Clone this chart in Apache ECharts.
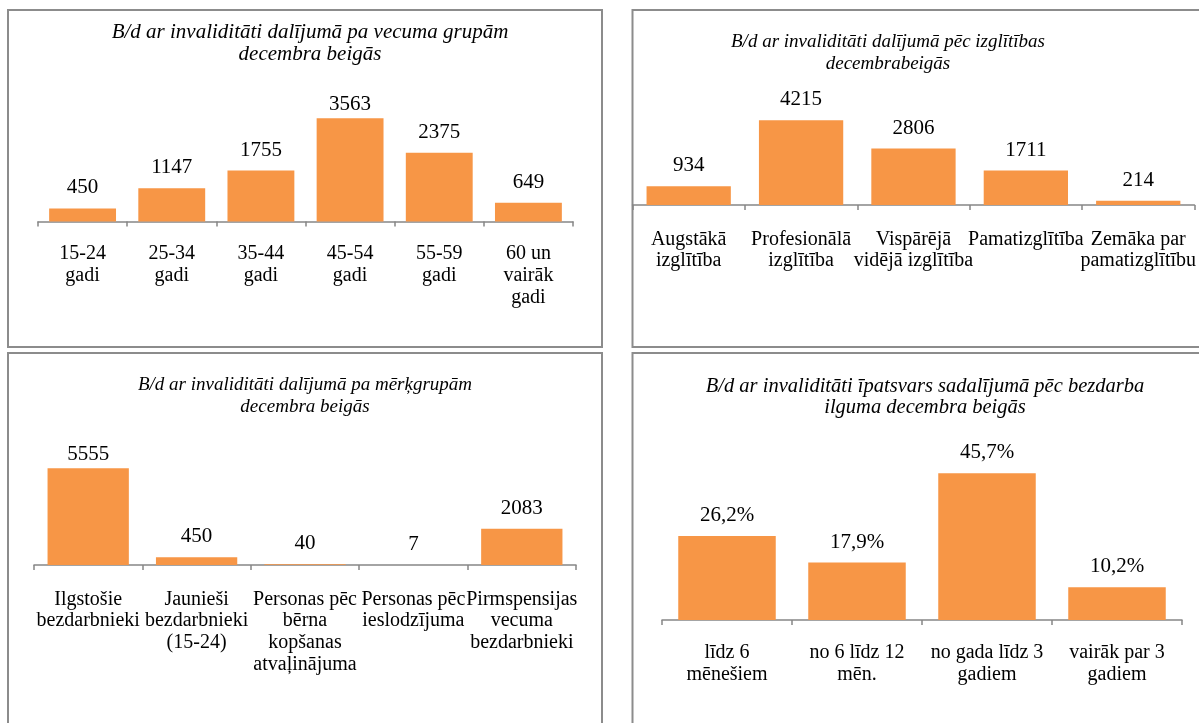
<!DOCTYPE html>
<html>
<head>
<meta charset="utf-8">
<script src="https://cdn.jsdelivr.net/npm/echarts@6/dist/echarts.min.js"></script>
<style>
html, body { margin: 0; padding: 0; background: #fff; }
#chart { width: 1199px; height: 723px; }
</style>
</head>
<body>
<div id="chart"></div>
<script>
// vecuma grupas
const ageGroups = ['15-24\ngadi', '25-34\ngadi', '35-44\ngadi', '45-54\ngadi', '55-59\ngadi', '60 un\nvairāk\ngadi']
const ageValues = [450, 1147, 1755, 3563, 2375, 649]

// izglītība
const eduGroups = ['Augstākā\nizglītība', 'Profesionālā\nizglītība', 'Vispārējā\nvidējā izglītība', 'Pamatizglītība', 'Zemāka par\npamatizglītību']
const eduValues = [934, 4215, 2806, 1711, 214]

// mērķgrupas
const targetGroups = ['Ilgstošie\nbezdarbnieki', 'Jaunieši\nbezdarbnieki\n(15-24)', 'Personas pēc\nbērna\nkopšanas\natvaļinājuma', 'Personas pēc\nieslodzījuma', 'Pirmspensijas\nvecuma\nbezdarbnieki']
const targetValues = [5555, 450, 40, 7, 2083]

// bezdarba ilgums (%)
const durGroups = ['līdz 6\nmēnešiem', 'no 6 līdz 12\nmēn.', 'no gada līdz 3\ngadiem', 'vairāk par 3\ngadiem']
const durValues = [26.2, 17.9, 45.7, 10.2]

const titles = [
  'B/d ar invaliditāti dalījumā pa vecuma grupām\ndecembra beigās',
  'B/d ar invaliditāti dalījumā pēc izglītības\ndecembrabeigās',
  'B/d ar invaliditāti dalījumā pa mērķgrupām\ndecembra beigās',
  'B/d ar invaliditāti īpatsvars sadalījumā pēc bezdarba\nilguma decembra beigās'
]

const FONT = "'Liberation Serif', 'Times New Roman', serif"
const BAR = '#F79646'
const AXIS = '#868686'
const BOX = '#8c8c8c'

// paneļu izkārtojums
const grids = [
  { left: 38, top: 105.5, width: 535, height: 116 },
  { left: 632.5, top: 104.5, width: 562, height: 100.5 },
  { left: 34, top: 460.6, width: 542, height: 104.4 },
  { left: 662, top: 459.5, width: 520, height: 160.5 }
]
const yMax = [4000, 5000, 6000, 50]
const labelMargin = [21.5, 23.5, 23.5, 22]
const titlePos = [[310, 22], [888, 31], [305, 374], [925, 375.5]]
const titleSize = [21, 19, 19, 20.5]

const categories = [ageGroups, eduGroups, targetGroups, durGroups]
const values = [ageValues, eduValues, targetValues, durValues]
// lielākais stabiņš, kam etiķete piespiesta pie stabiņa
const squeezed = [true, false, true, false]

const chart = echarts.init(document.getElementById('chart'))

chart.setOption({
  animation: false,
  title: titles.map((t, i) => ({
    text: t,
    left: titlePos[i][0],
    top: titlePos[i][1],
    textAlign: 'center',
    padding: 0,
    textStyle: {
      fontFamily: FONT,
      fontStyle: 'italic',
      fontWeight: 'normal',
      fontSize: titleSize[i],
      lineHeight: 21.7,
      color: '#000'
    }
  })),
  grid: grids,
  xAxis: categories.map((c, i) => ({
    type: 'category',
    gridIndex: i,
    data: c,
    axisLine: { lineStyle: { color: AXIS, width: 1.5 } },
    axisTick: { show: true, length: 5, lineStyle: { color: AXIS, width: 1.5 } },
    axisLabel: {
      interval: 0,
      margin: labelMargin[i],
      fontFamily: FONT,
      fontSize: 20,
      lineHeight: 21.7,
      color: '#000'
    }
  })),
  yAxis: yMax.map((m, i) => ({
    type: 'value',
    gridIndex: i,
    min: 0,
    max: m,
    show: false,
    splitLine: { show: false }
  })),
  series: values.map((vals, i) => {
    const maxIdx = vals.indexOf(Math.max(...vals))
    return {
      type: 'bar',
      xAxisIndex: i,
      yAxisIndex: i,
      barCategoryGap: '25%',
      itemStyle: { color: BAR },
      label: {
        show: true,
        position: 'top',
        distance: 10,
        fontFamily: FONT,
        fontSize: 21,
        color: '#000',
        formatter: i === 3
          ? p => p.value.toFixed(1).replace('.', ',') + '%'
          : '{c}'
      },
      data: vals.map((v, j) => (squeezed[i] && j === maxIdx)
        ? { value: v, label: { distance: 3 } }
        : v)
    }
  }),
  graphic: [
    { type: 'rect', silent: true, shape: { x: 8, y: 10, width: 594, height: 337 }, style: { fill: 'none', stroke: BOX, lineWidth: 2 } },
    { type: 'rect', silent: true, shape: { x: 632.5, y: 10, width: 600, height: 337 }, style: { fill: 'none', stroke: BOX, lineWidth: 2 } },
    { type: 'rect', silent: true, shape: { x: 8, y: 353, width: 594, height: 400 }, style: { fill: 'none', stroke: BOX, lineWidth: 2 } },
    { type: 'rect', silent: true, shape: { x: 632.5, y: 353, width: 600, height: 400 }, style: { fill: 'none', stroke: BOX, lineWidth: 2 } }
  ]
})

window.addEventListener('resize', () => {
  chart.resize()
})
</script>
</body>
</html>
